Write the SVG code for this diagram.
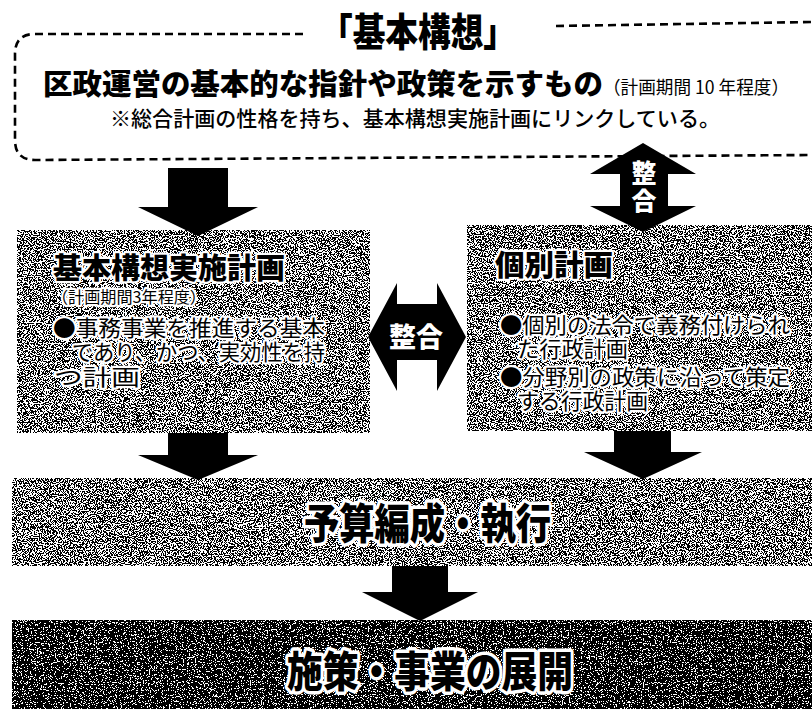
<svg xmlns="http://www.w3.org/2000/svg" width="812" height="709" viewBox="0 0 812 709">
<style>
.t{font-family:"Noto Sans CJK JP","Noto Sans CJK SC",sans-serif;fill:#000}
.b{font-weight:900}
.m{font-weight:500}
.halo{stroke:#fff;stroke-width:4.5;stroke-linejoin:round;paint-order:stroke}
.halo2{stroke:#fff;stroke-width:7;stroke-linejoin:round;paint-order:stroke}
.w{fill:#fff}
.arrow{fill:#000}
.dash{fill:none;stroke:#000;stroke-width:2.6;stroke-dasharray:8 5}
</style>
<defs>
<filter id="grayTex" color-interpolation-filters="sRGB">
  <feTurbulence type="fractalNoise" baseFrequency="0.85" numOctaves="2" seed="7" result="n"/>
  <feColorMatrix in="n" type="matrix" values="0 0 0 0 0  0 0 0 0 0  0 0 0 0 0  -6 0 0 0 3.5" result="a"/>
  <feComponentTransfer in="a" result="d"><feFuncA type="discrete" tableValues="0 1"/></feComponentTransfer>
  <feComposite in="d" in2="SourceGraphic" operator="in" result="s"/>
  <feMerge><feMergeNode in="SourceGraphic"/><feMergeNode in="s"/></feMerge>
</filter>
<filter id="darkTex" color-interpolation-filters="sRGB">
  <feTurbulence type="fractalNoise" baseFrequency="0.85" numOctaves="2" seed="11" result="n"/>
  <feColorMatrix in="n" type="matrix" values="0 0 0 0 0  0 0 0 0 0  0 0 0 0 0  -6 0 0 0 4.15" result="a"/>
  <feComponentTransfer in="a" result="d"><feFuncA type="discrete" tableValues="0 1"/></feComponentTransfer>
  <feComposite in="d" in2="SourceGraphic" operator="in" result="s"/>
  <feMerge><feMergeNode in="SourceGraphic"/><feMergeNode in="s"/></feMerge>
</filter>
</defs>
<rect width="812" height="709" fill="#fff"/>

<g id="kihon-kousou">
  <path class="dash" d="M303,34 L35,34 Q15,34 15,54 L15,140 Q15,160 35,160 L812,155"/>
  <path class="dash" d="M556,26 L812,22"/>
  <text class="t b" x="320" y="46" font-size="39" textLength="196" lengthAdjust="spacingAndGlyphs">「基本構想」</text>
  <text class="t b" x="43" y="95" font-size="29" textLength="560" lengthAdjust="spacingAndGlyphs">区政運営の基本的な指針や政策を示すもの</text>
  <text class="t" x="603" y="94" font-size="18" textLength="186" lengthAdjust="spacingAndGlyphs">（計画期間 10 年程度）</text>
  <text class="t m" x="110" y="126" font-size="21" textLength="610" lengthAdjust="spacingAndGlyphs">※総合計画の性格を持ち、基本構想実施計画にリンクしている。</text>
</g>

<g id="jisshi-keikaku">
  <rect x="17" y="230" width="353" height="203" fill="#fff" filter="url(#grayTex)"/>
  <text class="t b halo" x="53" y="279" font-size="29" textLength="232" lengthAdjust="spacingAndGlyphs">基本構想実施計画</text>
  <text class="t halo" x="52" y="303" font-size="16" textLength="154" lengthAdjust="spacingAndGlyphs">（計画期間3年程度）</text>
  <text class="t halo" font-size="22">
    <tspan x="53" y="336" textLength="272" lengthAdjust="spacingAndGlyphs">●事務事業を推進する基本</tspan>
    <tspan x="72" y="360" textLength="253" lengthAdjust="spacingAndGlyphs">であり、かつ、実効性を持</tspan>
    <tspan x="54" y="385" textLength="86" lengthAdjust="spacingAndGlyphs">つ計画</tspan>
  </text>
</g>

<g id="kobetsu-keikaku">
  <rect x="467" y="225" width="345" height="206" fill="#fff" filter="url(#grayTex)"/>
  <text class="t b halo" x="495" y="276" font-size="29" textLength="118" lengthAdjust="spacingAndGlyphs">個別計画</text>
  <text class="t halo" font-size="22">
    <tspan x="500" y="333" textLength="290" lengthAdjust="spacingAndGlyphs">●個別の法令で義務付けられ</tspan>
    <tspan x="517" y="357" textLength="111" lengthAdjust="spacingAndGlyphs">た行政計画</tspan>
    <tspan x="500" y="385" textLength="290" lengthAdjust="spacingAndGlyphs">●分野別の政策に沿って策定</tspan>
    <tspan x="517" y="409" textLength="131" lengthAdjust="spacingAndGlyphs">する行政計画</tspan>
  </text>
</g>

<g id="yosan">
  <rect x="12" y="478" width="800" height="88" fill="#fff" filter="url(#grayTex)"/>
  <text class="t b halo2" x="304" y="539" font-size="42" textLength="247" lengthAdjust="spacingAndGlyphs">予算編成・執行</text>
</g>

<g id="tenkai">
  <rect x="12" y="620" width="800" height="89" fill="#fff" filter="url(#darkTex)"/>
  <text class="t b halo2" x="287" y="687" font-size="42" textLength="286" lengthAdjust="spacingAndGlyphs">施策・事業の展開</text>
</g>

<g id="connectors">
  <polygon class="arrow" points="168,168 228,168 228,207 258,207 198,236 138,207 168,207"/>
  <polygon class="arrow" points="168,433 228,433 228,455 258,455 198,480 138,455 168,455"/>
  <polygon class="arrow" points="614,431 671,431 671,452 702,452 643,479 584,452 614,452"/>
  <polygon class="arrow" points="392,566 448,566 448,592 478,592 420,621 362,592 392,592"/>
  <polygon class="arrow" points="643,143 696,174 668,174 668,206 696,206 643,232 590,206 620,206 620,174 590,174"/>
  <text class="t b w" font-size="25" text-anchor="middle"><tspan x="644" y="182">整</tspan><tspan x="644" y="210">合</tspan></text>
  <polygon class="arrow" points="368,337 397,283 397,304 437,304 437,283 466,337 437,391 437,360 397,360 397,391"/>
  <text class="t b w" x="416" y="347" font-size="27" text-anchor="middle">整合</text>
</g>
</svg>
